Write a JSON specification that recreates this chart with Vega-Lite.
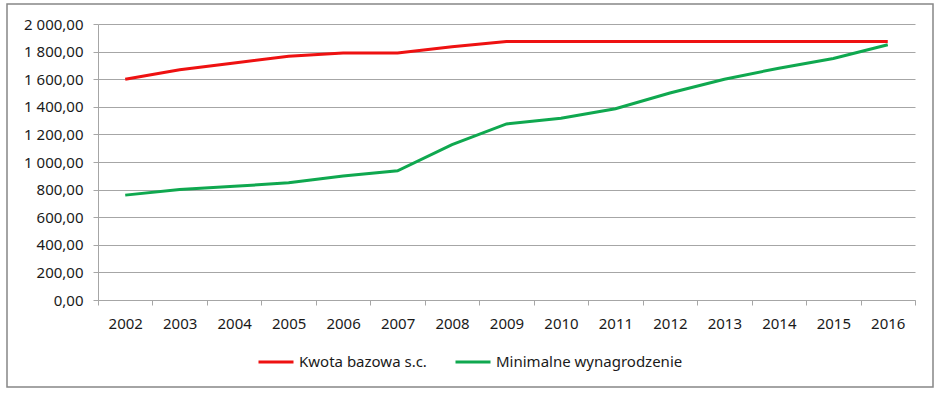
{
  "$schema": "https://vega.github.io/schema/vega-lite/v6.json",
  "width": 926,
  "height": 383,
  "autosize": {"type": "none"},
  "padding": {"left": 7, "top": 4, "right": 9, "bottom": 9},
  "background": "white",
  "config": {
    "locale": {"number": {"decimal": ",", "thousands": " ", "grouping": [3], "currency": ["", ""]}},
    "view": {"stroke": "#878787", "strokeWidth": 1.5},
    "font": "Noto Sans",
    "axis": {
      "labelFont": "Noto Sans",
      "labelFontSize": 15,
      "labelColor": "#1a1a1a",
      "domainColor": "#a6a6a6",
      "tickColor": "#a6a6a6",
      "gridColor": "#a6a6a6",
      "domainWidth": 1,
      "gridWidth": 1,
      "tickWidth": 1
    },
    "legend": {"labelFont": "Noto Sans", "labelFontSize": 15, "labelColor": "#1a1a1a"}
  },
  "data": {
    "values": [
      {"rok": "2002", "seria": "Kwota bazowa s.c.", "wartosc": 1600},
      {"rok": "2003", "seria": "Kwota bazowa s.c.", "wartosc": 1668},
      {"rok": "2004", "seria": "Kwota bazowa s.c.", "wartosc": 1718},
      {"rok": "2005", "seria": "Kwota bazowa s.c.", "wartosc": 1766},
      {"rok": "2006", "seria": "Kwota bazowa s.c.", "wartosc": 1790},
      {"rok": "2007", "seria": "Kwota bazowa s.c.", "wartosc": 1790},
      {"rok": "2008", "seria": "Kwota bazowa s.c.", "wartosc": 1835},
      {"rok": "2009", "seria": "Kwota bazowa s.c.", "wartosc": 1873.84},
      {"rok": "2010", "seria": "Kwota bazowa s.c.", "wartosc": 1873.84},
      {"rok": "2011", "seria": "Kwota bazowa s.c.", "wartosc": 1873.84},
      {"rok": "2012", "seria": "Kwota bazowa s.c.", "wartosc": 1873.84},
      {"rok": "2013", "seria": "Kwota bazowa s.c.", "wartosc": 1873.84},
      {"rok": "2014", "seria": "Kwota bazowa s.c.", "wartosc": 1873.84},
      {"rok": "2015", "seria": "Kwota bazowa s.c.", "wartosc": 1873.84},
      {"rok": "2016", "seria": "Kwota bazowa s.c.", "wartosc": 1873.84},
      {"rok": "2002", "seria": "Minimalne wynagrodzenie", "wartosc": 760},
      {"rok": "2003", "seria": "Minimalne wynagrodzenie", "wartosc": 800},
      {"rok": "2004", "seria": "Minimalne wynagrodzenie", "wartosc": 824},
      {"rok": "2005", "seria": "Minimalne wynagrodzenie", "wartosc": 849},
      {"rok": "2006", "seria": "Minimalne wynagrodzenie", "wartosc": 899.1},
      {"rok": "2007", "seria": "Minimalne wynagrodzenie", "wartosc": 936},
      {"rok": "2008", "seria": "Minimalne wynagrodzenie", "wartosc": 1126},
      {"rok": "2009", "seria": "Minimalne wynagrodzenie", "wartosc": 1276},
      {"rok": "2010", "seria": "Minimalne wynagrodzenie", "wartosc": 1317},
      {"rok": "2011", "seria": "Minimalne wynagrodzenie", "wartosc": 1386},
      {"rok": "2012", "seria": "Minimalne wynagrodzenie", "wartosc": 1500},
      {"rok": "2013", "seria": "Minimalne wynagrodzenie", "wartosc": 1600},
      {"rok": "2014", "seria": "Minimalne wynagrodzenie", "wartosc": 1680},
      {"rok": "2015", "seria": "Minimalne wynagrodzenie", "wartosc": 1750},
      {"rok": "2016", "seria": "Minimalne wynagrodzenie", "wartosc": 1850}
    ]
  },
  "mark": {"type": "line", "strokeWidth": 3, "strokeCap": "butt"},
  "encoding": {
    "x": {
      "field": "rok",
      "type": "ordinal",
      "scale": {"type": "band", "paddingInner": 0, "paddingOuter": 0, "range": [91, 908]},
      "axis": {
        "title": null,
        "orient": "bottom",
        "offset": -87,
        "tickBand": "extent",
        "tickSize": 5,
        "labelPadding": 11,
        "labelAngle": 0,
        "grid": false,
        "domain": true
      }
    },
    "y": {
      "field": "wartosc",
      "type": "quantitative",
      "scale": {"domain": [0, 2000], "range": [296, 20], "nice": false, "zero": true},
      "axis": {
        "title": null,
        "orient": "left",
        "offset": -91,
        "values": [0, 200, 400, 600, 800, 1000, 1200, 1400, 1600, 1800, 2000],
        "format": ",.2f",
        "tickSize": 5,
        "labelPadding": 10,
        "grid": true,
        "domain": true
      }
    },
    "color": {
      "field": "seria",
      "type": "nominal",
      "scale": {"domain": ["Kwota bazowa s.c.", "Minimalne wynagrodzenie"], "range": ["#ee1111", "#0fa84f"]},
      "legend": {
        "title": null,
        "orient": "none",
        "legendX": 250,
        "legendY": 339,
        "direction": "horizontal",
        "symbolType": "stroke",
        "symbolSize": 1225,
        "symbolStrokeWidth": 3,
        "labelOffset": 4,
        "columnPadding": 22,
        "labelLimit": 400
      }
    }
  }
}
